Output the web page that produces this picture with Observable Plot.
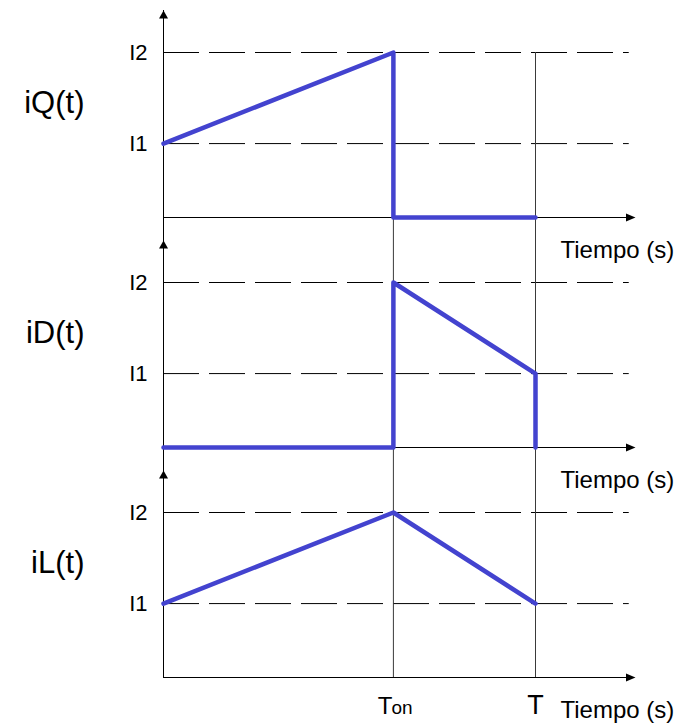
<!DOCTYPE html>
<html><head><meta charset="utf-8">
<script src="https://cdn.jsdelivr.net/npm/d3@7"></script>
<script src="https://cdn.jsdelivr.net/npm/@observablehq/plot@0.6"></script>
<style>html,body{margin:0;padding:0;background:#fff;}</style>
</head><body><div id="chart"></div>
<script>
// ---- data ----
const panels = ["iQ(t)", "iD(t)", "iL(t)"];
const Ton = 0.618, T = 1;            // switching instants (T = period)
const levels = [0.448, 1];           // I1, I2
const levelLabels = ["I1", "I2"];
const I1 = levels[0], I2 = levels[1];
const iQ_t = [0, Ton, Ton, T];
const iQ_i = [I1, I2, 0, 0];
const iD_t = [0, Ton, Ton, T, T];
const iD_i = [0, 0, I2, I1, 0];
const iL_t = [0, Ton, T];
const iL_i = [I1, I2, I1];
const axisLabel = "Tiempo (s)";

// ---- layout constants (scale units) ----
const Y_TOP = 217 / 165;     // top of each facet
const Y_FOOT = -13 / 165;    // bottom of each facet
const Y_TIP = 207 / 165;     // y-axis arrow tip
const X_MAX = 472 / 372;
const X_DASH_END = 1.252;

const series = [
  {panel: panels[0], t: iQ_t, i: iQ_i},
  {panel: panels[1], t: iD_t, i: iD_i},
  {panel: panels[2], t: iL_t, i: iL_i}
];
const rows = series.flatMap(s => s.t.map((t, k) => ({panel: s.panel, t, i: s.i[k]})));

const vRules = panels.flatMap((p, k) => [Ton, T].map(t => ({
  panel: p, t, y1: k === 0 ? I2 : Y_TOP, y2: k === 2 ? 0 : Y_FOOT
})));
const yAxes = panels.map((p, k) => ({panel: p, y1: k === 0 ? Y_TIP : Y_TOP, y2: k === 2 ? 0 : Y_FOOT}));

const upArrow = {draw(ctx) { ctx.moveTo(0, 0); ctx.lineTo(4.5, 8); ctx.lineTo(-4.5, 8); ctx.closePath(); }};
const rightArrow = {draw(ctx) { ctx.moveTo(0, 0); ctx.lineTo(-9.5, 4); ctx.lineTo(-9.5, -4); ctx.closePath(); }};

const blue = "#4343cf";

const chart = Plot.plot({
  width: 679, height: 727,
  marginTop: 0, marginBottom: 37, marginLeft: 163, marginRight: 44,
  x: {domain: [0, X_MAX], axis: null},
  y: {domain: [0, Y_TOP], axis: null, insetBottom: 13},
  fy: {domain: panels, axis: null, padding: 0},
  style: {fontFamily: "'Liberation Sans', Arial, sans-serif", background: "white", overflow: "visible", color: "black"},
  marks: [
    Plot.ruleY(levels, {y: d => d, x1: 0, x2: X_DASH_END, stroke: "black", strokeWidth: 1, strokeDasharray: "36,10"}),
    Plot.ruleX(vRules, {x: "t", y1: "y1", y2: "y2", fy: "panel", stroke: "#3a3a3a", strokeWidth: 1}),
    Plot.ruleY([0], {y: d => d, x1: 0, x2: X_MAX - 0.01, stroke: "black", strokeWidth: 1}),
    Plot.ruleX(yAxes, {x: 0, y1: "y1", y2: "y2", fy: "panel", stroke: "black", strokeWidth: 1}),
    Plot.dot([X_MAX], {x: d => d, y: 0, symbol: rightArrow, fill: "black", stroke: "none"}),
    Plot.dot(panels, {fy: d => d, x: 0, y: Y_TIP, symbol: upArrow, fill: "black", stroke: "none"}),
    Plot.line(rows, {x: "t", y: "i", fy: "panel", z: "panel", stroke: blue, strokeWidth: 4.5, strokeLinecap: "round"}),
    Plot.text(levels, {x: 0, y: d => d, text: (d, k) => levelLabels[k], textAnchor: "end", dx: -16, fontSize: 22, fill: "black"}),
    Plot.text(panels, {fy: d => d, text: d => d, frameAnchor: "left", textAnchor: "end", dx: -79, dy: -12, fontSize: 31, fill: "black"}),
    Plot.text(panels, {fy: d => d, text: () => axisLabel, frameAnchor: "bottom-right", textAnchor: "start", lineAnchor: "bottom", dx: -75, dy: 27, fontSize: 24, fill: "black"}),
    Plot.text([Ton], {fy: () => panels[2], x: d => d, text: () => "T", frameAnchor: "bottom", textAnchor: "end", lineAnchor: "bottom", dx: -1, dy: 23, fontSize: 24, fill: "black"}),
    Plot.text([Ton], {fy: () => panels[2], x: d => d, text: () => "on", frameAnchor: "bottom", textAnchor: "start", lineAnchor: "bottom", dx: -2, dy: 23, fontSize: 19, fill: "black"}),
    Plot.text([T], {fy: () => panels[2], x: d => d, text: () => "T", frameAnchor: "bottom", textAnchor: "middle", lineAnchor: "bottom", dy: 23, fontSize: 27, fill: "black"})
  ]
});
document.getElementById("chart").appendChild(chart);
</script>
</body></html>
